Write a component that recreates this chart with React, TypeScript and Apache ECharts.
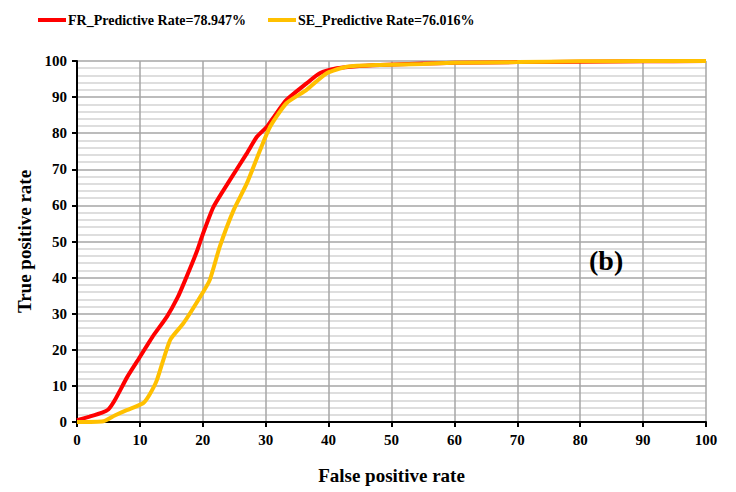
import React, { useEffect, useRef } from "react";
import * as echarts from "echarts";

const frX = [0, 2, 4, 5, 6, 8, 10, 12, 14.3, 16, 17.2, 19, 20, 21.7, 24.3, 27, 28.6, 30.2, 31.5, 33.3, 36.5, 38.6, 41.3, 44, 48.2, 55, 60, 70, 80, 90, 100];
const frY = [0.5, 1.5, 2.6, 3.5, 6, 12.5, 18, 23.6, 29.2, 34.5, 39.3, 47, 52, 59.6, 67, 74.4, 79, 81.8, 85, 89.2, 93.8, 96.6, 98, 98.5, 98.9, 99.3, 99.5, 99.7, 99.8, 99.9, 100];
const seX = [0, 4.2, 6, 7.9, 10.5, 11.5, 12.7, 14.8, 16.9, 19.6, 21.1, 22.7, 24.9, 27, 29.1, 30.7, 33.3, 36.5, 39.7, 42.9, 48.2, 55, 60, 70, 80, 90, 100];
const seY = [0, 0.2, 1.8, 3.3, 5.2, 7.5, 11.6, 22.7, 27.3, 34.7, 39.3, 48.6, 58.7, 66.1, 75.3, 81.8, 88.3, 92, 96.6, 98.4, 98.9, 99.2, 99.5, 99.7, 99.9, 100, 100];

const frName = "FR_Predictive Rate=78.947%";
const seName = "SE_Predictive Rate=76.016%";

export default function App() {
  const ref = useRef<HTMLDivElement>(null);
  useEffect(() => {
    document.body.style.margin = "0";
    const chart = echarts.init(ref.current!, null, { renderer: "svg" });
    const font = "Liberation Serif";
    const legendBase = {
      top: 8,
      itemWidth: 28,
      itemHeight: 4,
      icon: "rect",
      textStyle: { fontFamily: font, fontSize: 14, fontWeight: "bold", color: "#000", padding: [0, 0, 0, -3] },
    };
    chart.setOption({
      animation: false,
      textStyle: { fontFamily: font },
      title: {
        text: "(b)",
        left: 584,
        top: 241,
        textStyle: { fontFamily: font, fontSize: 28, fontWeight: "bold", color: "#000" },
      },
      legend: [
        { ...legendBase, left: 33, data: [frName] },
        { ...legendBase, left: 263, data: [seName] },
      ],
      grid: { left: 77, right: 30, top: 61, bottom: 70 },
      xAxis: {
        type: "value",
        min: 0,
        max: 100,
        interval: 10,
        name: "False positive rate",
        nameLocation: "middle",
        nameGap: 44,
        nameTextStyle: { fontFamily: font, fontSize: 19, fontWeight: "bold", color: "#000" },
        axisLine: { show: true, onZero: false, lineStyle: { color: "#000", width: 2 } },
        axisTick: { show: true, length: 5, lineStyle: { color: "#000", width: 2 } },
        axisLabel: { fontFamily: font, fontSize: 15, fontWeight: "bold", color: "#000", margin: 10 },
        splitLine: { show: true, lineStyle: { color: "#a6a6a6", width: 1.5 } },
      },
      yAxis: {
        type: "value",
        min: 0,
        max: 100,
        interval: 10,
        name: "True positive rate",
        nameLocation: "middle",
        nameGap: 42,
        nameTextStyle: { fontFamily: font, fontSize: 19, fontWeight: "bold", color: "#000" },
        axisLine: { show: true, lineStyle: { color: "#000", width: 2 } },
        axisTick: { show: true, length: 5, lineStyle: { color: "#000", width: 2 } },
        axisLabel: { fontFamily: font, fontSize: 15, fontWeight: "bold", color: "#000", margin: 10 },
        splitLine: { show: true, lineStyle: { color: "#a6a6a6", width: 1.5 } },
        minorTick: { show: false, splitNumber: 5 },
        minorSplitLine: { show: true, lineStyle: { color: "#d3d3d3", width: 1.5 } },
      },
      series: [
        {
          name: frName,
          type: "line",
          smooth: 0.2,
          symbol: "none",
          lineStyle: { color: "#ff0000", width: 4 },
          itemStyle: { color: "#ff0000" },
          data: frX.map((x, i) => [x, frY[i]]),
          z: 3,
        },
        {
          name: seName,
          type: "line",
          smooth: 0.2,
          symbol: "none",
          lineStyle: { color: "#ffc000", width: 4 },
          itemStyle: { color: "#ffc000" },
          data: seX.map((x, i) => [x, seY[i]]),
          z: 4,
        },
      ],
    });
    return () => chart.dispose();
  }, []);
  return <div ref={ref} style={{ width: 736, height: 492 }} />;
}
